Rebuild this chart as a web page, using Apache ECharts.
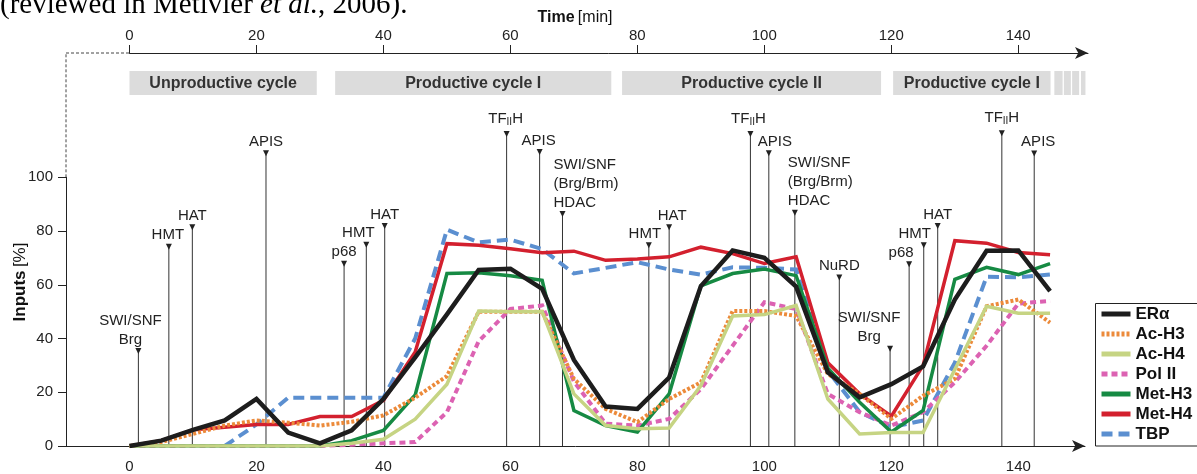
<!DOCTYPE html>
<html><head><meta charset="utf-8">
<script src="https://cdn.jsdelivr.net/npm/echarts@6/dist/echarts.min.js"></script>
<style>html,body{margin:0;padding:0;background:#fff;overflow:hidden}#c{width:1197px;height:474px}</style>
</head><body><div id="c"></div>
<script>
// ---- data ----
const times   = [0, 5, 10, 15, 20, 25, 30, 35, 40, 45, 50, 55, 60, 65, 70, 75, 80, 85, 90, 95, 100, 105, 110, 115, 120, 125, 130, 135, 140, 145];
const erAlpha = [0, 2, 6, 9.5, 17.5, 5, 1, 5.8, 17.5, 33, 49, 65.5, 66, 58.5, 32, 14.7, 13.8, 25.5, 59.5, 72.8, 70, 59.3, 27.4, 18.1, 23, 29.6, 54.5, 72.7, 72.8, 57.6];
const acH3    = [0, 1.5, 4.5, 7.6, 9.5, 8.7, 7.6, 9, 11.4, 18, 26, 50, 50, 50, 25, 13.8, 8.9, 17.5, 23.7, 50.2, 50.2, 48.4, 26.8, 19.4, 10.1, 18.7, 25, 52, 54.5, 45.9];
const acH4    = [0, 0, 0, 0, 0, 0, 0, 1, 2.5, 10, 23, 50.2, 50, 50, 19.4, 7.6, 6.4, 6.7, 22.5, 48.4, 48.9, 52.3, 17.5, 4.5, 5, 5, 28.5, 52, 49.4, 49.4];
const polII   = [0, 0, 0, 0, 0, 0, 0, 0.5, 1, 1.5, 12.6, 39, 51, 52.3, 24, 8.3, 7.6, 10.1, 21.2, 37.3, 53.5, 51, 19.4, 12.6, 7.6, 12.6, 23.7, 37.3, 53, 54];
const metH3   = [0, 0, 0, 0, 0, 0, 0, 2, 5.8, 19, 64.2, 64.5, 63.4, 61.7, 13.2, 7.6, 5.2, 19.4, 59.6, 64.2, 65.9, 63.4, 29, 16.3, 5.2, 13.2, 62, 66.5, 63.8, 67.9];
const metH4   = [0, 2, 6, 7, 8, 8, 11, 11, 17, 35, 75.3, 74.7, 73.4, 71.9, 72.5, 69.1, 69.6, 70.4, 74, 71.6, 67.9, 70.4, 31, 19.4, 11.1, 30, 76.4, 75.5, 72, 71.2];
const tbp     = [null, null, null, 0, 8, 18, 18, 18, 18, 40, 80.5, 75.8, 76.8, 73.3, 64.2, 66.3, 68.4, 65.7, 63.8, 66.5, 66.3, 65.7, 28, 12.6, 7, 9.5, 31, 63, 62.8, 63.8];

const seriesNames = ['ERα', 'Ac-H3', 'Ac-H4', 'Pol II', 'Met-H3', 'Met-H4', 'TBP'];
const timeTicks = [0, 20, 40, 60, 80, 100, 120, 140];

const cycleStarts = [0, 32.4, 77.6, 120.3];
const cycleEnds   = [29.5, 75.9, 118.4, 145.1];
const cycleLabels = ['Unproductive cycle', 'Productive cycle I', 'Productive cycle II', 'Productive cycle I'];
const stripeStarts = [145.7, 147.2, 148.5, 149.9];
const stripeEnds   = [147.0, 148.3, 149.6, 150.6];

const annotTimes  = [1.4, 6.2, 9.9, 21.5, 33.8, 37.3, 40.2, 59.4, 64.6, 68.2, 81.8, 85.0, 97.8, 100.7, 104.8, 111.8, 119.8, 122.8, 125.1, 127.3, 137.4, 142.5];
const annotLevels = [35, 73.8, 81, 108.6, 67.5, 74.5, 81.5, 115.7, 109, 86, 74.3, 81, 115.7, 108.6, 86.4, 62.3, 35.8, 67.3, 74.3, 81.5, 116, 108.5];
const annotLabels = ['SWI/SNF\nBrg', 'HMT', 'HAT', 'APIS', 'p68', 'HMT', 'HAT', 'TFIIH', 'APIS', 'SWI/SNF\n(Brg/Brm)\nHDAC', 'HMT', 'HAT', 'TFIIH', 'APIS', 'SWI/SNF\n(Brg/Brm)\nHDAC', 'NuRD', 'SWI/SNF\nBrg', 'p68', 'HMT', 'HAT', 'TFIIH', 'APIS'];
// layout only: horizontal label offset (px) and alignment
const annotLabelDx    = [-8, -1, 0, 0, 0, -8, 0, -1, -1, -9, -4, 3, -2, 6, -7, 0, -21, -8, -9, 0, 0, 4];
const annotLabelAlign = ['center','center','center','center','center','center','center','center','center','left','center','center','center','center','left','center','center','center','center','center','center','center'];

// ---- chart ----
const FONT = '"Liberation Sans", Arial, sans-serif';
const SERIF = '"Liberation Serif", "Times New Roman", serif';
const chart = echarts.init(document.getElementById('c'), null, {renderer: 'canvas'});
const pair = arr => times.map((t, i) => [t, arr[i]]);

function lineSeries(name, arr, color, width, type, z) {
  return {
    name: name, type: 'line', data: pair(arr), xAxisIndex: 0, yAxisIndex: 0,
    symbol: 'none', showSymbol: false, connectNulls: false, z: z,
    lineStyle: {color: color, width: width, type: type, cap: 'butt', join: 'miter'},
    itemStyle: {color: color}, animation: false, silent: true
  };
}

const option = {
  animation: false,
  backgroundColor: '#fff',
  textStyle: {fontFamily: FONT},
  grid: [
    {left: 66, right: 112, top: 177.3, bottom: 26.7},
    {left: 129.5, right: 109, top: 53, height: 47}
  ],
  xAxis: [
    {
      gridIndex: 0, type: 'value', min: -10, max: 150.5, interval: 10,
      axisLine: {show: true, onZero: false, lineStyle: {color: '#222', width: 1}, symbol: ['none', 'arrow'], symbolSize: [9, 13]},
      axisTick: {show: false}, splitLine: {show: false},
      axisLabel: {fontSize: 15, color: '#222', margin: 13, fontFamily: FONT,
        formatter: v => (v >= 0 && v % 20 === 0) ? String(v) : ''}
    },
    {
      gridIndex: 1, type: 'value', position: 'top', min: 0, max: 151, interval: 20,
      axisLine: {show: true, onZero: false, lineStyle: {color: '#222', width: 1}, symbol: ['none', 'arrow'], symbolSize: [9, 13]},
      axisTick: {show: true, length: 8, lineStyle: {color: '#222'}, customValues: timeTicks},
      splitLine: {show: false},
      axisLabel: {fontSize: 15, color: '#222', margin: 10, fontFamily: FONT, customValues: timeTicks,
        formatter: v => (v % 20 === 0) ? String(v) : ''}
    }
  ],
  yAxis: [
    {
      gridIndex: 0, type: 'value', min: 0, max: 100, interval: 20,
      axisLine: {show: true, onZero: false, lineStyle: {color: '#222', width: 1}},
      axisTick: {show: true, length: 8, lineStyle: {color: '#222'}},
      splitLine: {show: false},
      axisLabel: {fontSize: 15, color: '#222', margin: 13, fontFamily: FONT}
    },
    {gridIndex: 1, type: 'value', min: 0, max: 1, inverse: true, show: false}
  ],
  legend: {
    orient: 'vertical', left: 1095, top: 303,
    data: seriesNames,
    itemWidth: 29, itemHeight: 14, itemGap: 2,
    padding: [2, 10, 3, 4],
    borderWidth: 0, backgroundColor: 'transparent',
    textStyle: {fontSize: 17, fontWeight: 'bold', color: '#111', fontFamily: FONT, lineHeight: 18},
    itemStyle: {opacity: 0},
    lineStyle: {width: 5},
    selectedMode: false
  },
  series: [
    {
      type: 'custom', name: 'annotations', xAxisIndex: 0, yAxisIndex: 0, z: 1, clip: false, silent: true,
      data: annotTimes.map((t, i) => [t, annotLevels[i]]),
      renderItem: function (params, api) {
        const i = params.dataIndex;
        const top = api.coord([api.value(0), api.value(1)]);
        const base = api.coord([api.value(0), 0]);
        const lbl = annotLabels[i];
        let textStyle = {
          x: top[0] + annotLabelDx[i], y: top[1] - 3,
          align: annotLabelAlign[i], verticalAlign: 'bottom',
          font: '15px ' + FONT, fill: '#222', lineHeight: 19
        };
        if (lbl === 'TFIIH') {
          textStyle.y = top[1] - 7;
          textStyle.text = '{m|TF}{s|II}{m|H}';
          textStyle.rich = {
            m: {fontSize: 15, fontFamily: FONT, fill: '#222', lineHeight: 19},
            s: {fontSize: 10, fontFamily: FONT, fill: '#222', lineHeight: 19, padding: [7, 0, 0, 0]}
          };
        } else {
          textStyle.text = lbl;
        }
        return {
          type: 'group',
          children: [
            {type: 'line', shape: {x1: top[0], y1: top[1], x2: base[0], y2: base[1]}, style: {stroke: '#333', lineWidth: 1}},
            {type: 'polygon', shape: {points: [[top[0] - 3, top[1] - 4], [top[0] + 3, top[1] - 4], [top[0], top[1] + 2]]}, style: {fill: '#222'}},
            {type: 'text', style: textStyle}
          ]
        };
      }
    },
    {
      type: 'custom', name: 'cycles', xAxisIndex: 1, yAxisIndex: 1, clip: false, silent: true, z: 1,
      data: cycleStarts.map((s, i) => [s, cycleEnds[i], i]).concat(stripeStarts.map((s, i) => [s, stripeEnds[i], -1])),
      renderItem: function (params, api) {
        const p0 = api.coord([api.value(0), 0.383]);
        const p1 = api.coord([api.value(1), 0.894]);
        const idx = api.value(2);
        const children = [
          {type: 'rect', shape: {x: p0[0], y: p0[1], width: p1[0] - p0[0], height: p1[1] - p0[1]}, style: {fill: '#dcdcdc'}}
        ];
        if (idx >= 0) {
          children.push({type: 'text', style: {text: cycleLabels[idx], x: (p0[0] + p1[0]) / 2, y: (p0[1] + p1[1]) / 2 + 1,
            align: 'center', verticalAlign: 'middle', font: 'bold 16px ' + FONT, fill: '#333'}});
        }
        return {type: 'group', children: children};
      }
    },
    lineSeries('TBP', tbp, '#5b8fd0', 4, [11, 6], 2),
    lineSeries('Pol II', polII, '#dc62b2', 4, [6, 4], 3),
    lineSeries('Met-H4', metH4, '#d3202e', 3.5, 'solid', 4),
    lineSeries('Met-H3', metH3, '#168a43', 3.5, 'solid', 5),
    lineSeries('Ac-H3', acH3, '#ec8a3a', 4, [3, 2], 6),
    lineSeries('Ac-H4', acH4, '#c6d483', 3.5, 'solid', 7),
    lineSeries('ERα', erAlpha, '#1d1d1d', 4.5, 'solid', 8)
  ]
};
chart.setOption(option);

// decorations computed from the axes
const yAxX = chart.convertToPixel({xAxisIndex: 0}, -10);
const y100 = chart.convertToPixel({yAxisIndex: 0}, 100);
const y0 = chart.convertToPixel({yAxisIndex: 0}, 0);
const topY = chart.convertToPixel({yAxisIndex: 1}, 0);
const topX0 = chart.convertToPixel({xAxisIndex: 1}, 0);
chart.setOption({
  graphic: [
    {type: 'line', shape: {x1: yAxX, y1: y100, x2: yAxX, y2: topY}, style: {stroke: '#444', lineWidth: 1, lineDash: [3, 2]}, silent: true},
    {type: 'line', shape: {x1: yAxX, y1: topY, x2: topX0, y2: topY}, style: {stroke: '#444', lineWidth: 1, lineDash: [3, 2]}, silent: true},
    // legend frame (runs off the right edge as in the original)
    {type: 'rect', z: 3, silent: true, shape: {x: 1095.5, y: 303.5, width: 160, height: y0 - 303.5},
      style: {fill: '#fff', stroke: '#222', lineWidth: 1}},
    {type: 'text', left: 0, top: -9, silent: true,
      style: {text: '{n|(reviewed in Metivier }{i|et al.}{n|, 2006).}',
        rich: {n: {fontSize: 29, fontFamily: SERIF, fill: '#000'},
               i: {fontSize: 29, fontStyle: 'italic', fontFamily: SERIF, fill: '#000'}}}},
    {type: 'text', x: 575, y: 18, silent: true,
      style: {text: '{b|Time} {n|[min]}', align: 'center', verticalAlign: 'middle',
        rich: {b: {fontSize: 16, fontWeight: 'bold', fontFamily: FONT, fill: '#111'}, n: {fontSize: 16, fontFamily: FONT, fill: '#111'}}}},
    {type: 'text', x: 20, y: 282, rotation: Math.PI / 2, silent: true,
      style: {text: '{b|Inputs} {n|[%]}', align: 'center', verticalAlign: 'middle',
        rich: {b: {fontSize: 17, fontWeight: 'bold', fontFamily: FONT, fill: '#111'}, n: {fontSize: 17, fontFamily: FONT, fill: '#111'}}}}
  ]
});
</script>
</body></html>
